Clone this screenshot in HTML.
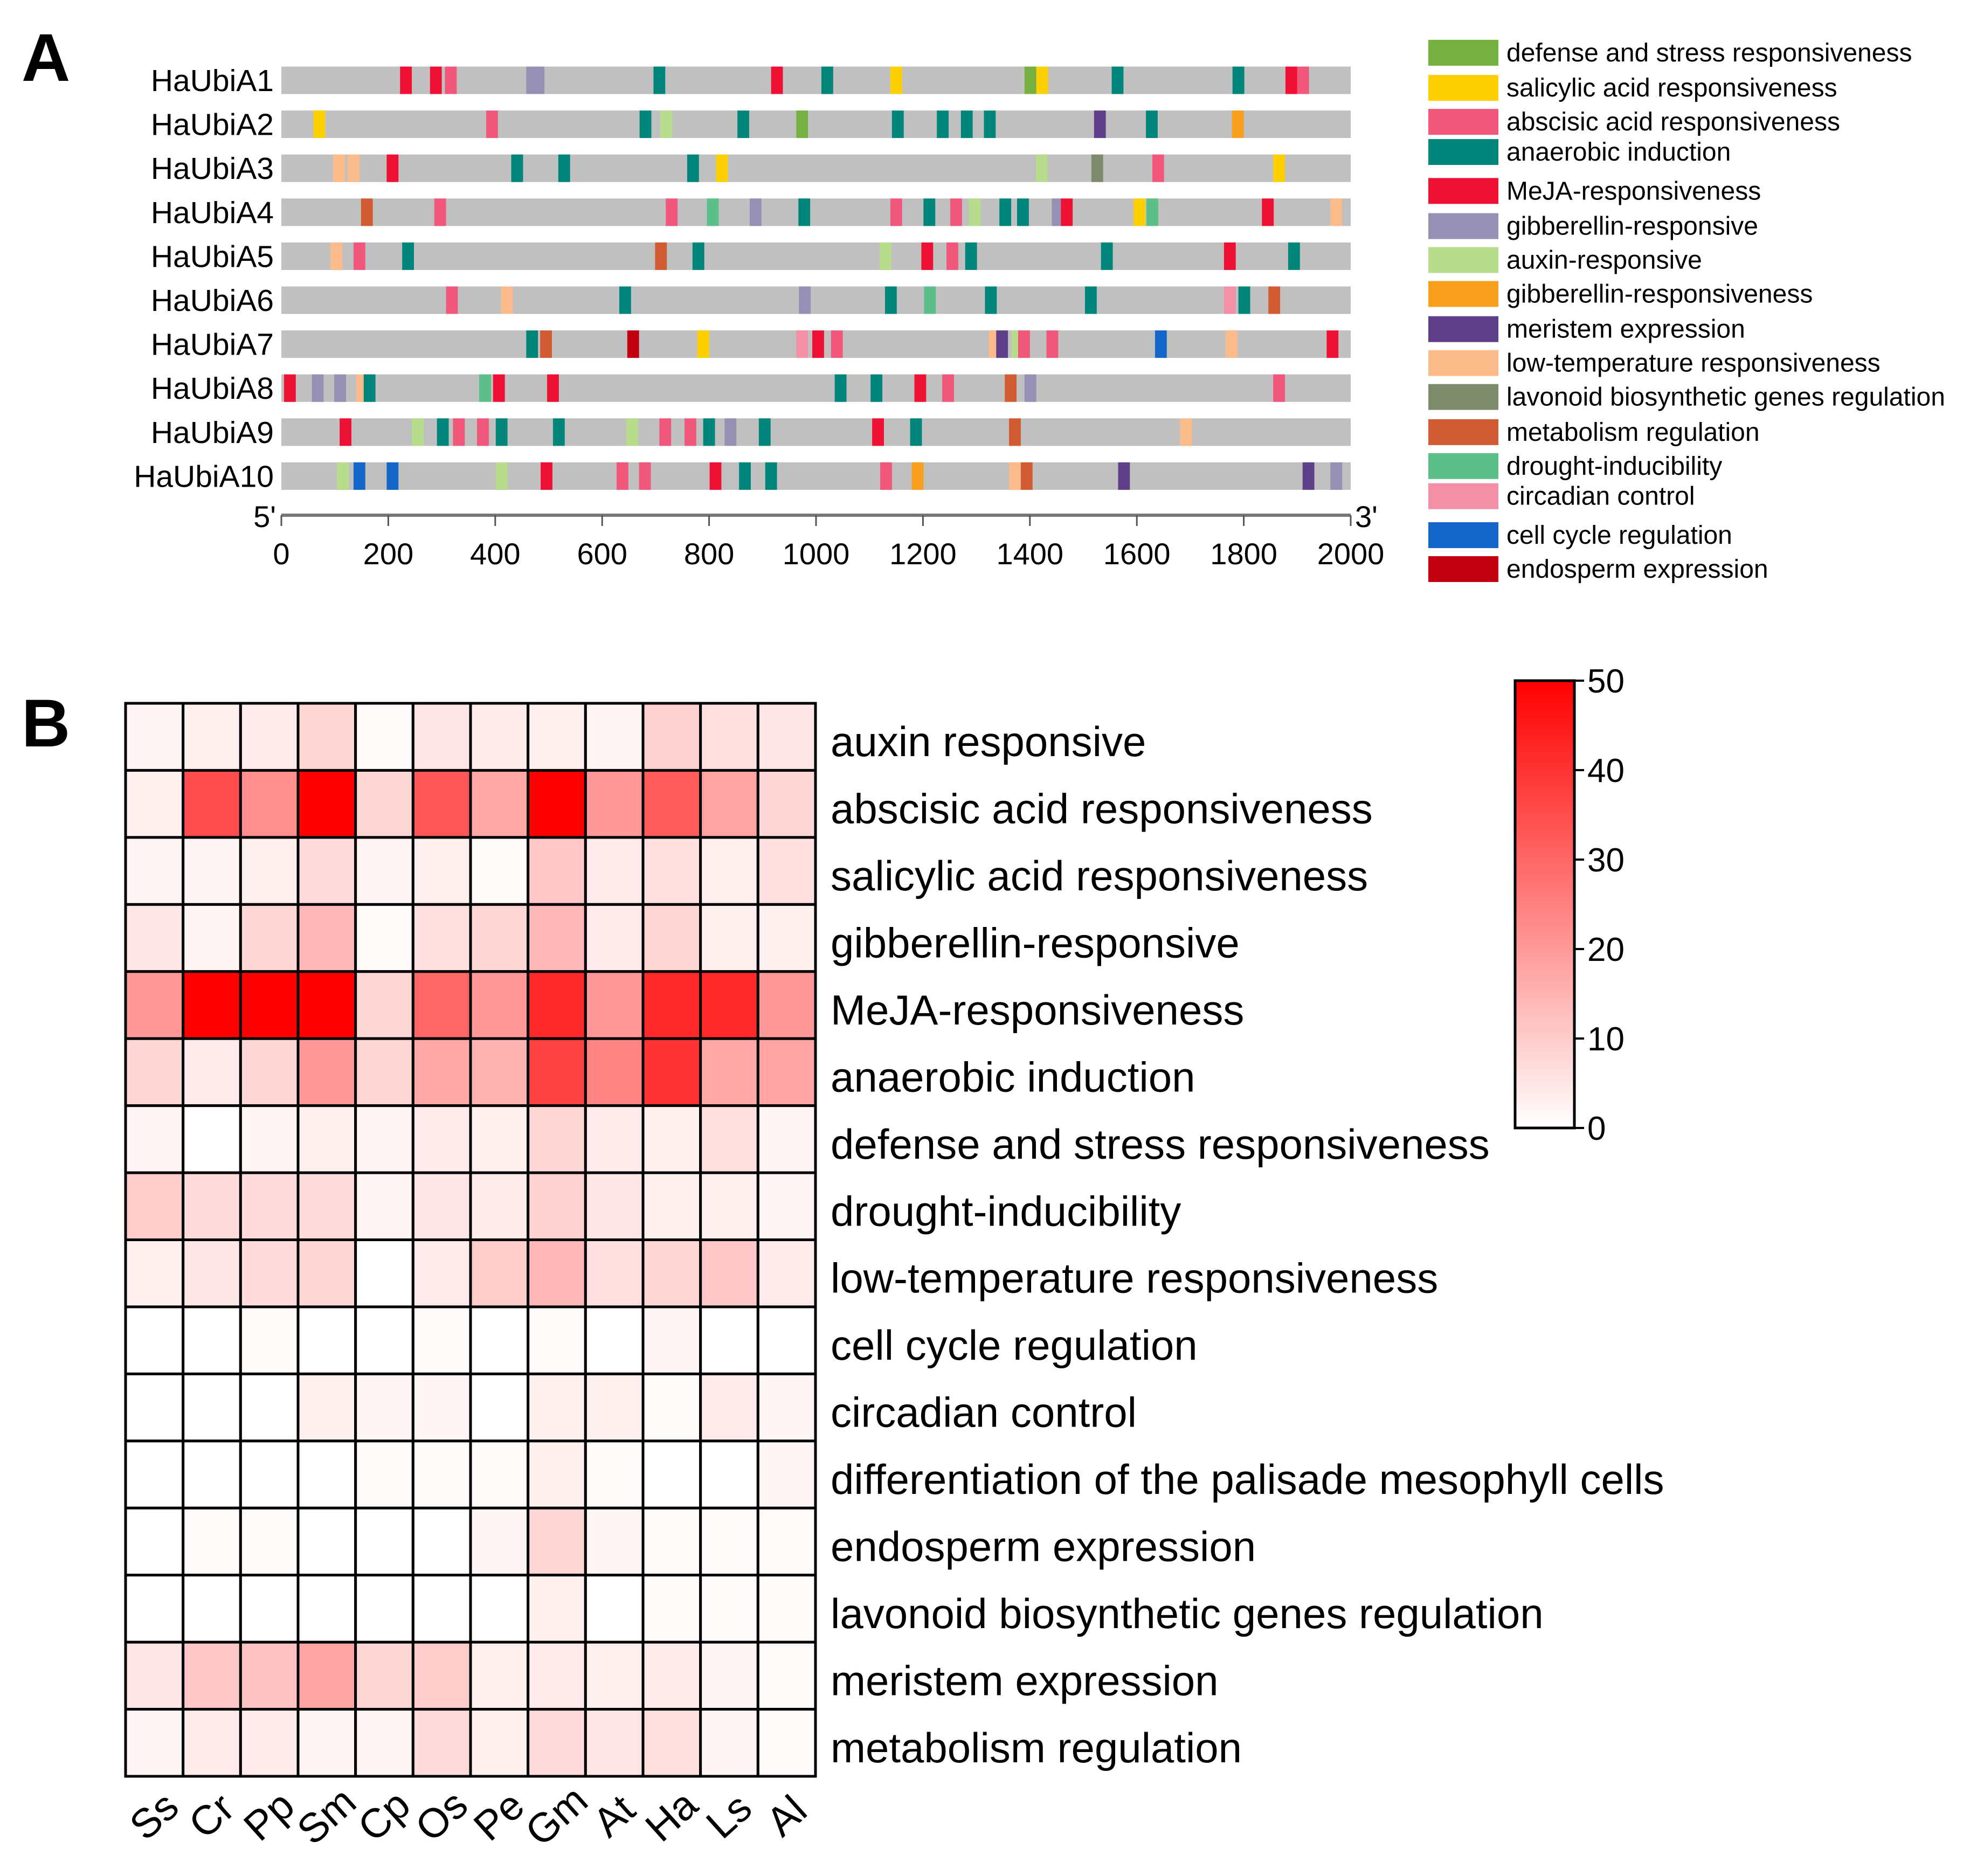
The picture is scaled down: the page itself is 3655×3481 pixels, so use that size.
<!DOCTYPE html>
<html><head><meta charset="utf-8"><style>
html,body{margin:0;padding:0;background:#fff;}
svg{display:block;font-family:"Liberation Sans",Arial,sans-serif;}
</style></head><body>
<svg id="chart" width="3655" height="3481" viewBox="0 0 3655 3481" xmlns="http://www.w3.org/2000/svg">
<text x="40" y="150" font-size="125" font-weight="bold">A</text>
<text x="40" y="1385" font-size="125" font-weight="bold">B</text>
<g id="pa"></g>
<g id="leg"></g>
<g id="hm"></g>
<g id="cb"></g>
</svg>
<script>
const genes=["HaUbiA1","HaUbiA2","HaUbiA3","HaUbiA4","HaUbiA5","HaUbiA6","HaUbiA7","HaUbiA8","HaUbiA9","HaUbiA10"];
const catNames=["defense and stress responsiveness","salicylic acid responsiveness","abscisic acid responsiveness","anaerobic induction","MeJA-responsiveness","gibberellin-responsive","auxin-responsive","gibberellin-responsiveness","meristem expression","low-temperature responsiveness","lavonoid biosynthetic genes regulation","metabolism regulation","drought-inducibility","circadian control","cell cycle regulation","endosperm expression"];
const catColors=["#76b041","#ffd000","#f0577a","#00857a","#ee1133","#9590b4","#b6dc8c","#f8a01e","#5e3f8a","#fcbb8a","#7e8a6c","#d15b32","#5cbf8a","#f38fa6","#1466c8","#c00010"];
const sites=[
[[222,4],[278,4],[306,2],[458,5],[470,5],[696,3],[916,4],[1010,3],[1139,1],[1390,0],[1412,1],[1553,3],[1779,3],[1878,4],[1900,2]],
[[60,1],[383,2],[670,3],[709,6],[853,3],[963,0],[1142,3],[1226,3],[1271,3],[1314,3],[1520,8],[1617,3],[1778,7]],
[[97,9],[124,9],[197,4],[430,3],[518,3],[759,3],[813,1],[1411,6],[1515,10],[1629,2],[1855,1]],
[[149,11],[286,2],[719,2],[796,12],[876,5],[967,3],[1139,2],[1201,3],[1251,2],[1286,6],[1343,3],[1376,3],[1441,5],[1458,4],[1594,1],[1618,12],[1834,4],[1962,9]],
[[92,9],[135,2],[226,3],[699,11],[769,3],[1119,6],[1197,4],[1244,2],[1279,3],[1533,3],[1763,4],[1883,3]],
[[308,2],[411,9],[632,3],[968,5],[1129,3],[1202,12],[1316,3],[1503,3],[1763,13],[1790,3],[1846,11]],
[[458,3],[484,11],[647,15],[778,1],[963,13],[993,4],[1028,2],[1323,9],[1337,8],[1366,6],[1378,2],[1431,2],[1634,14],[1766,9],[1955,4]],
[[5,4],[57,5],[99,5],[140,9],[154,3],[370,12],[396,4],[497,4],[1035,3],[1102,3],[1184,4],[1236,2],[1353,11],[1390,5],[1855,2]],
[[109,4],[244,6],[291,3],[321,2],[366,2],[401,3],[508,3],[645,6],[707,2],[754,2],[789,3],[829,5],[893,3],[1105,4],[1176,3],[1361,11],[1681,9]],
[[104,6],[135,14],[197,14],[401,6],[485,4],[627,2],[669,2],[801,4],[856,3],[905,3],[1120,2],[1179,7],[1361,9],[1383,11],[1565,8],[1910,8],[1962,5]]
];
const xTicks=[0,200,400,600,800,1000,1200,1400,1600,1800,2000];
const species=["Ss","Cr","Pp","Sm","Cp","Os","Pe","Gm","At","Ha","Ls","Al"];
const elements=["auxin responsive","abscisic acid responsiveness","salicylic acid responsiveness","gibberellin-responsive","MeJA-responsiveness","anaerobic induction","defense and stress responsiveness","drought-inducibility","low-temperature responsiveness","cell cycle regulation","circadian control","differentiation of the palisade mesophyll cells","endosperm expression","lavonoid biosynthetic genes regulation","meristem expression","metabolism regulation"];
const counts=[
[2,3,4,8,1,5,4,3,2,9,6,5],
[3,35,22,50,8,33,17,50,20,32,18,8],
[2,2,3,7,2,3,1,11,4,6,3,6],
[5,2,8,14,1,6,8,14,4,8,3,3],
[20,50,50,50,8,30,20,42,20,42,42,20],
[8,4,8,20,8,17,15,37,24,40,17,18],
[2,0,2,3,2,4,3,8,4,3,6,2],
[10,7,7,7,2,5,4,9,5,3,3,2],
[3,5,7,8,0,4,10,14,6,8,11,4],
[0,0,1,0,0,1,0,1,0,2,0,0],
[0,0,0,3,2,2,0,3,3,1,4,2],
[0,0,0,0,1,1,1,3,1,0,0,2],
[0,1,1,0,0,0,2,8,2,1,1,1],
[0,0,0,0,0,0,0,3,0,1,1,1],
[5,11,12,18,8,10,3,4,3,4,2,1],
[2,4,4,2,2,7,3,7,5,6,2,1]
];
const cbTicks=[0,10,20,30,40,50];

const NS="http://www.w3.org/2000/svg";
function mk(tag,attrs,parent){const e=document.createElementNS(NS,tag);for(const k in attrs)e.setAttribute(k,attrs[k]);parent.appendChild(e);return e;}
const pa=document.getElementById('pa');
const X0=522,X1=2506,Y0=149,DY=81.6,BH=51;
const xs=v=>X0+(X1-X0)*v/2000;
const ry=i=>Y0+i*DY;
genes.forEach((g,i)=>{
  const t=mk('text',{x:508,y:ry(i)+20,'font-size':57,'text-anchor':'end'},pa);t.textContent=g;
  
  
  const b=mk('rect',{x:X0,y:ry(i)-BH/2,width:X1-X0,height:BH,fill:'#c0c0c0'},pa);
  
  
  sites[i].forEach(s=>{
    const r=mk('rect',{x:xs(s[0]),y:ry(i)-BH/2,width:xs(22)-X0,height:BH,fill:catColors[s[1]]},pa);
    
    
  });
});
const AY=956;
const al=mk('line',{x1:X0,x2:X1,y1:AY,y2:AY,stroke:'#777',"stroke-width":6},pa);


xTicks.forEach(v=>{
  mk('line',{x1:xs(v),x2:xs(v),y1:AY,y2:AY+20,stroke:'#555',"stroke-width":3},pa);
  const t=mk('text',{x:xs(v),y:1047,'font-size':56,'text-anchor':'middle'},pa);t.textContent=v;
  
  
});
let t5=mk('text',{x:512,y:978,'font-size':56,'text-anchor':'end'},pa);t5.textContent="5'";


let t3=mk('text',{x:2514,y:978,'font-size':56},pa);t3.textContent="3'";


const leg=document.getElementById('leg');
const legY=[42,70,97,121,152,180,207,234,262,289,316,344,371,395,426,453];
catNames.forEach((n,i)=>{
  const y=legY[i]*2.331;
  const s=mk('rect',{x:2650,y:y-24,width:130,height:48,fill:catColors[i]},leg);
  
  
  const t=mk('text',{x:2795,y:y+16,'font-size':48},leg);t.textContent=n;
  
  
});
const hm=document.getElementById('hm');
const HX0=233,HX1=1513,HY0=1305,HY1=3296;
const cw=(HX1-HX0)/species.length, ch=(HY1-HY0)/elements.length;
const col=v=>{const f=Math.max(0,Math.min(1,v/50));const g=Math.round(255*(1-f));return `rgb(255,${g},${g})`;};
elements.forEach((e,r)=>{
  species.forEach((s,c)=>{
    const cell=mk('rect',{x:HX0+c*cw,y:HY0+r*ch,width:cw,height:ch,fill:col(counts[r][c]),stroke:'#000',"stroke-width":5},hm);
    
    
  });
  const t=mk('text',{x:1541,y:HY0+r*ch+ch/2+36,'font-size':78},hm);t.textContent=e;
  
  
});
species.forEach((s,c)=>{
  const cx=HX0+c*cw+cw/2, cy=3395;
  const t=mk('text',{x:cx,y:cy,'font-size':76,'text-anchor':'middle',transform:`rotate(-42 ${cx} ${cy-25})`},hm);t.textContent=s;
  
  
});
const cb=document.getElementById('cb');
const defs=mk('defs',{},cb);
const lg=mk('linearGradient',{id:'cg',x1:0,y1:1,x2:0,y2:0},defs);
mk('stop',{offset:'0',"stop-color":'#fff'},lg);mk('stop',{offset:'1',"stop-color":'#f00'},lg);
const CBX=2811,CBW=110,CBY0=1263,CBY1=2093;
const cbr=mk('rect',{x:CBX,y:CBY0,width:CBW,height:CBY1-CBY0,fill:'url(#cg)',stroke:'#000',"stroke-width":5},cb);


const cy=v=>CBY1-(CBY1-CBY0)*v/50;
cbTicks.forEach(v=>{
  mk('line',{x1:CBX+CBW,x2:CBX+CBW+18,y1:cy(v),y2:cy(v),stroke:'#000',"stroke-width":4},cb);
  const t=mk('text',{x:CBX+CBW+24,y:cy(v)+22,'font-size':62},cb);t.textContent=v;
  
  
});
</script>
</body></html>
